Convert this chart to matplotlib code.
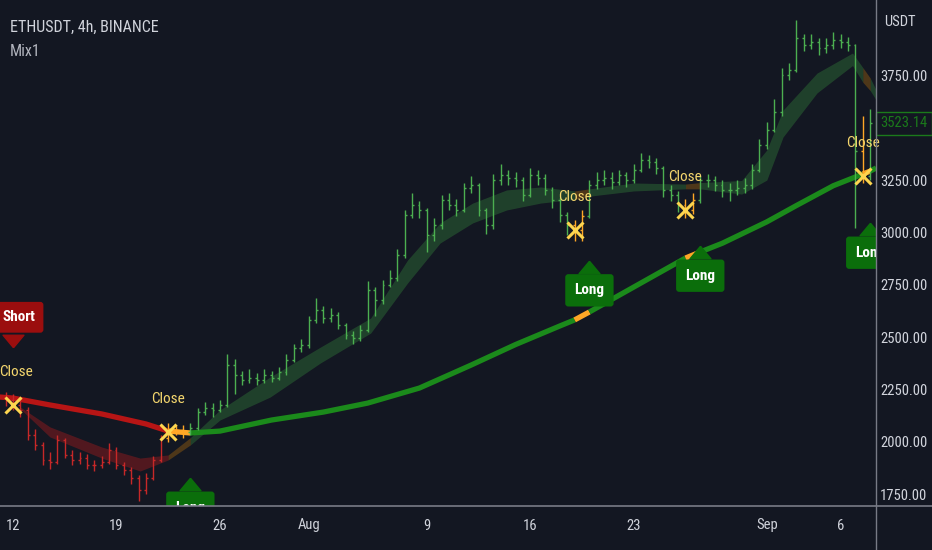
import os
import matplotlib.pyplot as plt
import numpy as np
from matplotlib import font_manager
from matplotlib.font_manager import FontProperties
from matplotlib.lines import Line2D
from matplotlib.transforms import offset_copy

files = {os.path.basename(f.fname): f.fname for f in font_manager.fontManager.ttflist}


def pick(options):
    for o in options:
        if o in files:
            return files[o]
    return None


reg_file = pick(['LiberationSansNarrow-Regular.ttf', 'RobotoCondensed-Regular.ttf',
                 'AsapCondensed-Regular.ttf', 'DejaVuSansCondensed.ttf'])
bold_file = pick(['LiberationSansNarrow-Bold.ttf', 'RobotoCondensed-Bold.ttf',
                  'AsapCondensed-SemiBold.ttf', 'AsapCondensed-Bold.ttf',
                  'DejaVuSansCondensed-Bold.ttf'])


def fp(size, bold=False):
    f = bold_file if bold else reg_file
    if f is None:
        return FontProperties(family='DejaVu Sans', size=size, weight='bold' if bold else 'normal')
    return FontProperties(fname=f, size=size)


# 12h bars, day 0 = Jul 12
first_open = 2215
close = [2200, 2176, 2152, 2032, 1984, 1913, 1903, 2008, 1937, 1913,
         1922, 1889, 1889, 1903, 1960, 1889, 1865, 1827, 1769, 1827,
         1913, 2018, 2047, 2056, 2047, 2066, 2142, 2161, 2152, 2176,
         2367, 2319, 2295, 2305, 2295, 2319, 2305, 2334, 2391, 2449,
         2463, 2583, 2630, 2592, 2606, 2559, 2511, 2496, 2535, 2726,
         2678, 2750, 2784, 2894, 3085, 3133, 3109, 2989, 3037, 3157,
         3133, 3109, 3214, 3229, 3109, 3037, 3252, 3276, 3262, 3252,
         3181, 3276, 3262, 3205, 3157, 3085, 3037, 3013, 3080, 3229,
         3252, 3262, 3243, 3276, 3252, 3300, 3348, 3338, 3310, 3205,
         3181, 3133, 3109, 3157, 3252, 3252, 3229, 3205, 3205, 3214,
         3229, 3300, 3420, 3492, 3578, 3755, 3779, 3932, 3898, 3913,
         3884, 3898, 3922, 3913, 3898, 3390, 3270, 3523.14]
high = [2240, 2230, 2200, 2165, 2060, 2000, 1950, 2030, 2020, 1960,
        1950, 1940, 1915, 1930, 1995, 1975, 1905, 1880, 1840, 1850,
        1930, 2030, 2090, 2080, 2080, 2090, 2160, 2190, 2185, 2200,
        2420, 2395, 2340, 2350, 2330, 2350, 2340, 2360, 2420, 2470,
        2490, 2600, 2690, 2650, 2640, 2620, 2570, 2530, 2560, 2770,
        2740, 2775, 2820, 2920, 3110, 3190, 3150, 3120, 3070, 3180,
        3190, 3160, 3240, 3270, 3240, 3120, 3280, 3330, 3300, 3290,
        3265, 3310, 3300, 3280, 3220, 3170, 3100, 3060, 3110, 3250,
        3290, 3300, 3290, 3300, 3290, 3330, 3380, 3370, 3360, 3320,
        3230, 3200, 3160, 3190, 3270, 3280, 3270, 3250, 3240, 3250,
        3260, 3330, 3450, 3530, 3640, 3790, 3810, 4018, 3950, 3950,
        3930, 3930, 3960, 3950, 3935, 3905, 3560, 3590]
low = [2170, 2150, 2120, 2010, 1960, 1890, 1870, 1895, 1920, 1890,
       1895, 1870, 1860, 1875, 1895, 1870, 1840, 1800, 1718, 1750,
       1815, 1905, 2000, 2030, 2020, 2030, 2055, 2130, 2120, 2140,
       2165, 2230, 2270, 2280, 2270, 2280, 2285, 2295, 2320, 2380,
       2430, 2450, 2570, 2570, 2575, 2540, 2490, 2470, 2480, 2525,
       2600, 2660, 2740, 2770, 2880, 3070, 3070, 2910, 2960, 3020,
       3110, 3080, 3100, 3190, 3080, 2995, 3020, 3230, 3230, 3220,
       3150, 3170, 3230, 3180, 3120, 3050, 2990, 2960, 2960, 3070,
       3210, 3230, 3210, 3230, 3220, 3240, 3290, 3310, 3280, 3170,
       3150, 3100, 3070, 3090, 3140, 3220, 3200, 3170, 3150, 3180,
       3190, 3210, 3290, 3400, 3480, 3560, 3730, 3770, 3870, 3880,
       3850, 3860, 3880, 3885, 3870, 3023, 3240, 3250]

# signals (bar index, kind)
signal_bar = [1, 1, 22, 25, 77, 79, 92, 94, 116, 117]
signal_kind = ['close', 'short', 'close', 'long', 'close', 'long', 'close', 'long', 'close', 'long']

# slow moving average (day, price)
ma_day = [-0.9, 0, 2.5, 6, 9, 10.5, 12, 14, 17.5, 21, 24, 27.5, 31, 34, 37, 38, 39,
          42.5, 45.5, 46.5, 48, 51, 53, 55.5, 57.5, 58, 58.4]
ma_val = [2214, 2209, 2176, 2133, 2085, 2051, 2042, 2051, 2104, 2142, 2185, 2257,
          2367, 2465, 2554, 2583, 2621, 2760, 2879, 2908, 2950, 3052, 3130, 3225,
          3281, 3295, 3310]

# fast cloud (day, upper, lower)
band_day = [0.5, 2.5, 6.0, 8.6, 10.5, 12, 14, 17.4, 20.8, 24.2, 26.7, 28.9, 31.1,
            33.4, 35.7, 38, 39, 42, 45.5, 46.5, 49.3, 51, 52.1, 54.4, 56.8, 57.5, 58, 58.4]
band_up = [2166, 2071, 1975, 1922, 1937, 2020, 2152, 2310, 2453, 2592, 2870, 3047,
           3142, 3205, 3219, 3200, 3210, 3238, 3233, 3240, 3250, 3396, 3587, 3764,
           3860, 3790, 3740, 3683]
band_lo = [2157, 2023, 1922, 1860, 1913, 1985, 2104, 2214, 2377, 2520, 2760, 2951,
           3047, 3109, 3142, 3160, 3175, 3200, 3210, 3210, 3185, 3252, 3458, 3669,
           3800, 3720, 3680, 3635]

tick_day = [0, 7, 14, 20, 28, 35, 42, 51, 56]
tick_lbl = ['12', '19', '26', 'Aug', '9', '16', '23', 'Sep', '6']
price_ticks = [1750, 2000, 2250, 2500, 2750, 3000, 3250, 3750]

bg = '#131722'
col = {'short': '#c62828', 'long': '#4caf50', 'neutral': '#ffa726'}
ma_col = {'short': '#b71515', 'long': '#1b8a1b', 'neutral': '#ffa726'}
band_col = {'short': ('#b71c1c', 0.38), 'long': ('#388e3c', 0.35), 'neutral': ('#ff9800', 0.25)}

close = np.array(close)
high = np.array(high)
low = np.array(low)
opens = np.concatenate(([first_open], close[:-1]))
bar_day = -0.5 + 0.5 * np.arange(len(close))
sig_day = [bar_day[k] for k in signal_bar]


def state_at(t, start='short'):
    s = start
    for d, kind in zip(sig_day, signal_kind):
        if d <= t:
            s = 'neutral' if kind == 'close' else kind
    return s


def runs(days):
    st = [state_at((days[i] + days[i + 1]) / 2) for i in range(len(days) - 1)]
    i = 0
    while i < len(st):
        j = i
        while j + 1 < len(st) and st[j + 1] == st[i]:
            j += 1
        yield st[i], i, j + 2
        i = j + 1


fig = plt.figure(figsize=(9.32, 5.5), dpi=100, facecolor=bg)
ax = fig.add_axes([0, 44 / 550, 876 / 932, 506 / 550], facecolor=bg)

# cloud
for s, a, b in runs(band_day):
    c, al = band_col[s]
    ax.fill_between(band_day[a:b], band_lo[a:b], band_up[a:b], color=c, alpha=al, lw=0, zorder=1)

# slow MA
for s, a, b in runs(ma_day):
    ax.plot(ma_day[a:b], ma_val[a:b], color=ma_col[s], lw=3.8, solid_capstyle='butt', zorder=2)

# OHLC bars
bar_colors = [col[state_at(d)] for d in bar_day]
w = 0.13
ax.vlines(bar_day, low, high, colors=bar_colors, lw=1.0, zorder=3)
ax.hlines(opens, bar_day - w, bar_day, colors=bar_colors, lw=1.0, zorder=3)
ax.hlines(close, bar_day, bar_day + w, colors=bar_colors, lw=1.0, zorder=3)

tri_up = [(0, 0.6), (-1, -0.6), (1, -0.6), (0, 0.6)]
tri_dn = [(0, -0.6), (-1, 0.6), (1, 0.6), (0, -0.6)]

for k, kind in zip(signal_bar, signal_kind):
    d = bar_day[k]
    nudge = 4 if k == signal_bar[0] else 0   # keep the first labels inside the frame
    if kind == 'close':
        ax.plot(d, close[k], marker='x', ms=12, mew=2.2, color='#fdd54f', zorder=6)
        ax.annotate('Close', xy=(d, close[k]), xytext=(nudge / 2, 24), textcoords='offset points',
                    ha='center', va='center', fontproperties=fp(11), color='#f5d76e', zorder=6)
    elif kind == 'long':
        tr = offset_copy(ax.transData, fig=fig, x=0, y=-35, units='points')
        ax.plot(d, low[k], marker=tri_up, ms=15, color='#0b6e0b', transform=tr, zorder=5)
        ax.annotate('Long', xy=(d, low[k]), xytext=(0, -52), textcoords='offset points',
                    ha='center', va='center', fontproperties=fp(11, True), color='white',
                    bbox=dict(boxstyle='round,pad=0.6,rounding_size=0.2', fc='#0b6e0b', ec='none'),
                    zorder=5, clip_on=True)
    else:
        tr = offset_copy(ax.transData, fig=fig, x=0, y=38, units='points')
        ax.plot(d, high[k], marker=tri_dn, ms=15, color='#9b0e0e', transform=tr, zorder=5)
        ax.annotate('Short', xy=(d, high[k]), xytext=(nudge, 55), textcoords='offset points',
                    ha='center', va='center', fontproperties=fp(11, True), color='white',
                    bbox=dict(boxstyle='round,pad=0.55,rounding_size=0.2', fc='#9b0e0e', ec='none'),
                    zorder=5, clip_on=True)

ax.set_xlim(-13 / 14.78, 863 / 14.78)
ax.set_ylim(1692.6, 4113.6)

ax.yaxis.tick_right()
ax.set_yticks(price_ticks)
ax.set_yticklabels([f'{v:.2f}' for v in price_ticks])
ax.set_xticks(tick_day)
ax.set_xticklabels(tick_lbl)
ax.tick_params(axis='y', length=0, pad=3, labelcolor='#d1d4dc')
ax.tick_params(axis='x', length=0, pad=9, labelcolor='#d1d4dc')
for lbl in ax.get_yticklabels() + ax.get_xticklabels():
    lbl.set_fontproperties(fp(10.5))
for sp in ax.spines.values():
    sp.set_visible(False)

# last price tag
ax.annotate(f'{close[-1]:.2f}', xy=(1, close[-1]), xycoords=('axes fraction', 'data'),
            xytext=(3, 0), textcoords='offset points', ha='left', va='center',
            fontproperties=fp(10.5), color='#1b7a1b', annotation_clip=False,
            bbox=dict(boxstyle='square,pad=0.3', fc=bg, ec='#1b7a1b', lw=1))

fig.add_artist(Line2D([876 / 932, 876 / 932], [0, 1], color='#787b86', lw=1))
fig.add_artist(Line2D([0, 1], [44 / 550, 44 / 550], color='#787b86', lw=1.2))

fig.text(10 / 932, 1 - 27 / 550, 'ETHUSDT, 4h, BINANCE', va='center', ha='left',
         fontproperties=fp(11.5), color='#d1d4dc')
fig.text(10 / 932, 1 - 51 / 550, 'Mix1', va='center', ha='left', fontproperties=fp(11.5),
         color='#b2b5be')
fig.text(884 / 932, 1 - 22 / 550, 'USDT', va='center', ha='left', fontproperties=fp(10.5),
         color='#d1d4dc')

fig.savefig('out.png', dpi=100, facecolor=bg)
